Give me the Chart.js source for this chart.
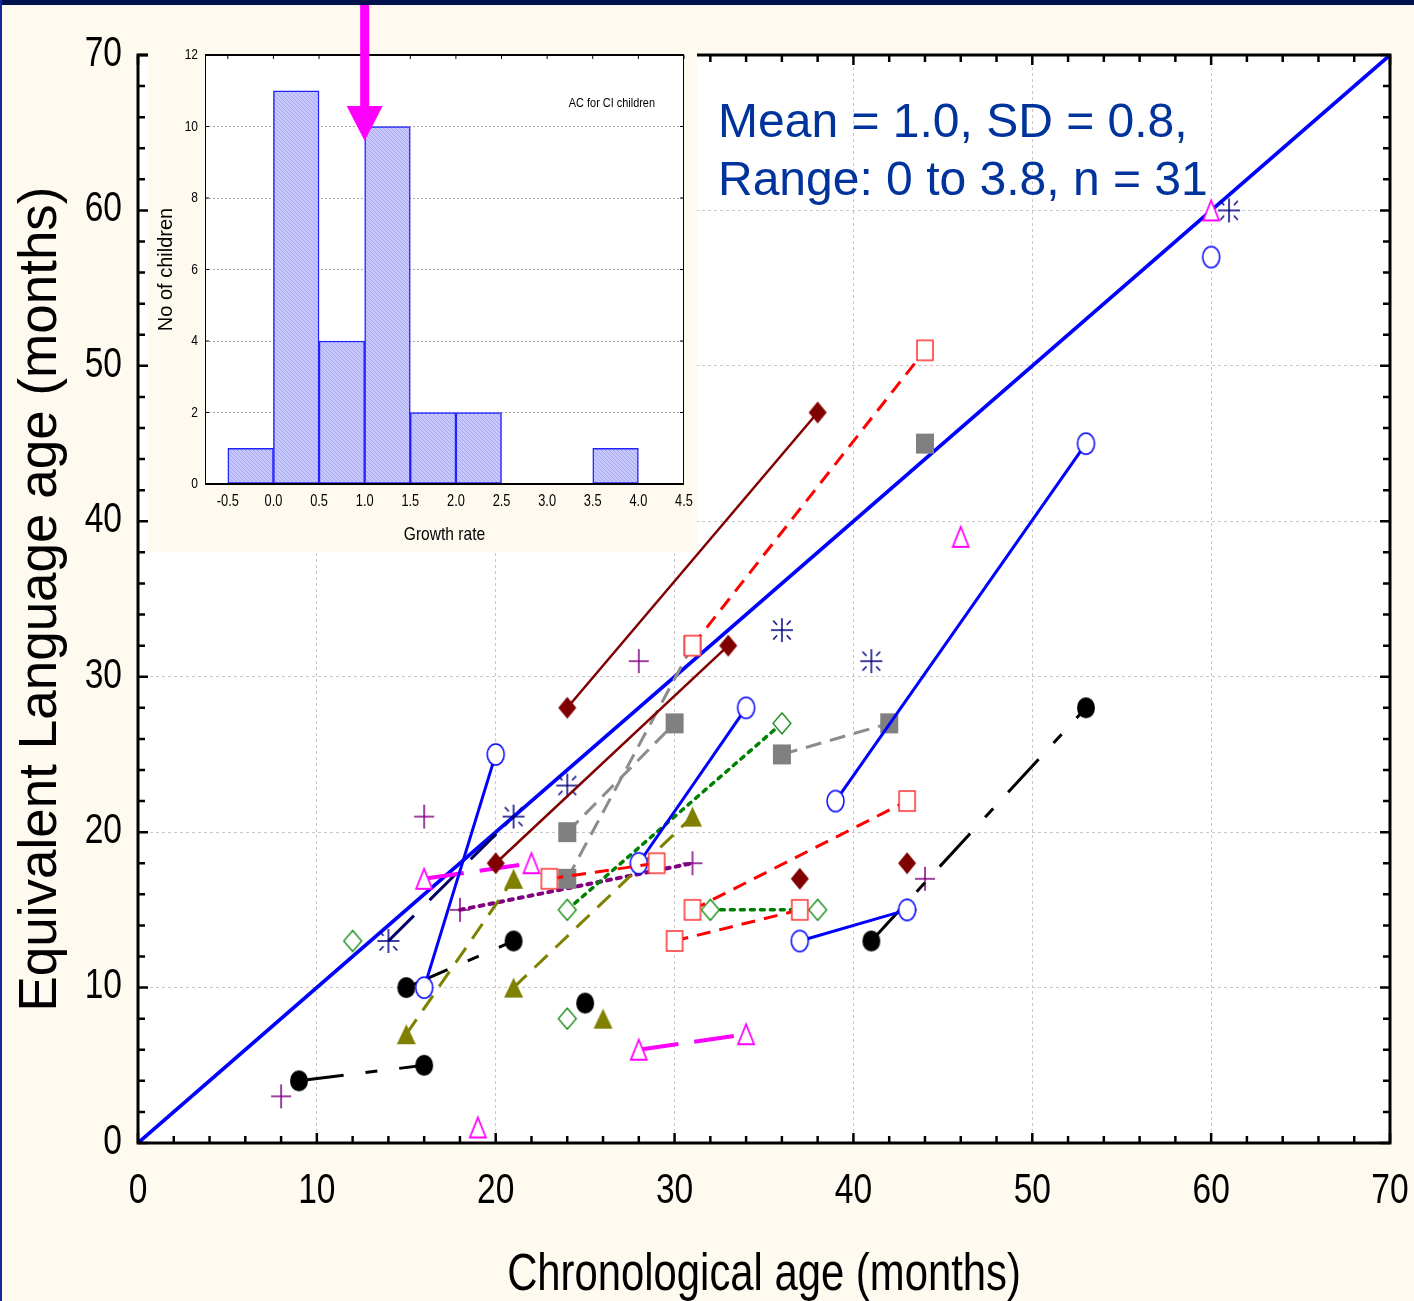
<!doctype html>
<html lang="en">
<head>
<meta charset="utf-8">
<title>Equivalent language age by chronological age</title>
<script src="https://cdn.jsdelivr.net/npm/chart.js@4.4.1/dist/chart.umd.min.js"></script>
<style>
  html, body { margin: 0; padding: 0; background: #fffaf0; }
  #wrap { position: relative; width: 1414px; height: 1301px; overflow: hidden; }
  #main { position: absolute; left: 0; top: 0; }
  #inset { position: absolute; left: 148px; top: 5px; }
  #topbar { position: absolute; left: 0; top: 0; width: 1414px; height: 5px; background: #00124e; }
  #leftbar { position: absolute; left: 0; top: 0; width: 2px; height: 1301px; background: #14269a; }
</style>
</head>
<body>
<div id="wrap">
  <canvas id="main" width="1414" height="1301"></canvas>
  <canvas id="inset" width="549" height="547"></canvas>
  <div id="topbar"></div>
  <div id="leftbar"></div>
</div>
<script>
const SANS = "'Liberation Sans', Arial, sans-serif";
const CREAM = '#fffaf0';

// ---- main plot: [chronological age, language age] per child ----
const ageTicks = [0, 10, 20, 30, 40, 50, 60, 70];
const identityLine = [[0, 0], [70, 70]];

const redSquare = [[[31, 32], [44, 51]], [[23, 17], [29, 18]], [[31, 15], [43, 22]], [[30, 13], [37, 15]]];
const blueCircle = [[[16, 10], [20, 25]], [[28, 18], [34, 28]], [[39, 22], [53, 45]], [[37, 13], [43, 15]], [[60, 57]]];
const maroonDiamond = [[[24, 28], [38, 47]], [[20, 18], [33, 32]], [[37, 17]], [[43, 18]]];
const graySquare = [[[24, 20], [30, 27]], [[24, 17], [31, 32]], [[36, 25], [42, 27]], [[44, 45]]];
const greenDiamond = [[[12, 13]], [[24, 15], [36, 27]], [[32, 15], [38, 15]], [[43, 15]], [[24, 8]]];
const oliveTriangle = [[[15, 7], [21, 17]], [[21, 10], [31, 21]], [[26, 8]]];
const blackDot = [[[9, 4], [16, 5]], [[15, 10], [21, 13]], [[25, 9]], [[41, 13], [53, 28]]];
const magentaTriangle = [[[16, 17], [22, 18]], [[28, 6], [34, 7]], [[19, 1]], [[46, 39]], [[60, 60]]];
const navyStar = [[[14, 13], [21, 21]], [[24, 23]], [[36, 33]], [[41, 31]], [[61, 60]]];
const purpleCross = [[[16, 21]], [[28, 31]], [[18, 15], [31, 18]], [[8, 3]], [[44, 17]]];

// ---- inset histogram ----
const binCenters = [-0.25, 0.25, 0.75, 1.25, 1.75, 2.25, 2.75, 3.25, 3.75, 4.25];
const childCounts = [1, 11, 4, 10, 2, 2, 0, 0, 1, 0];
const growthTicks = [-0.5, 0, 0.5, 1, 1.5, 2, 2.5, 3, 3.5, 4, 4.5];
const countTicks = [0, 2, 4, 6, 8, 10, 12];
const meanGrowth = 1.0;

const statsLines = ['Mean = 1.0, SD = 0.8,', 'Range: 0 to 3.8, n = 31'];

// marker glyphs (the originals are slightly taller than wide)
function marker(shape, w, h, stroke, fill, lw) {
  const c = document.createElement('canvas');
  const pad = Math.ceil(lw) + 1;
  c.width = w + 2 * pad;
  c.height = h + 2 * pad;
  const g = c.getContext('2d');
  g.translate(c.width / 2, c.height / 2);
  g.beginPath();
  if (shape === 'ellipse') {
    g.ellipse(0, 0, w / 2, h / 2, 0, 0, Math.PI * 2);
  } else if (shape === 'rect') {
    g.rect(-w / 2, -h / 2, w, h);
  } else if (shape === 'diamond') {
    g.moveTo(0, -h / 2); g.lineTo(w / 2, 0); g.lineTo(0, h / 2); g.lineTo(-w / 2, 0); g.closePath();
  } else if (shape === 'triangle') {
    g.moveTo(0, -h / 2); g.lineTo(w / 2, h / 2); g.lineTo(-w / 2, h / 2); g.closePath();
  } else if (shape === 'cross' || shape === 'asterisk') {
    g.moveTo(-w / 2, 0); g.lineTo(w / 2, 0);
    g.moveTo(0, -h / 2); g.lineTo(0, h / 2);
    if (shape === 'asterisk') {
      [[1, 1], [1, -1], [-1, 1], [-1, -1]].forEach(([sx, sy]) => {
        g.moveTo(sx * w * 0.22, sy * h * 0.22);
        g.lineTo(sx * w * 0.4, sy * h * 0.4);
      });
    }
  }
  if (fill) { g.fillStyle = fill; g.fill(); }
  if (stroke) { g.lineWidth = lw; g.strokeStyle = stroke; g.stroke(); }
  return c;
}

const groups = [
  { kids: redSquare, style: { pointStyle: marker('rect', 16, 20, '#ff3030', '#fff', 1.5), borderColor: '#ff0000', borderWidth: 3, borderDash: [14, 9] } },
  { kids: blueCircle, style: { pointStyle: marker('ellipse', 17, 21, '#0000ff', '#fff', 1.5), borderColor: '#0000ff', borderWidth: 3 } },
  { kids: maroonDiamond, style: { pointStyle: marker('diamond', 18, 22, null, '#800000', 1), borderColor: '#800000', borderWidth: 2.5 } },
  { kids: graySquare, style: { pointStyle: marker('rect', 18, 20, null, '#808080', 1), borderColor: '#8c8c8c', borderWidth: 3, borderDash: [16, 9] } },
  { kids: greenDiamond, style: { pointStyle: marker('diamond', 18, 21, '#008000', '#fff', 1.2), borderColor: '#008000', borderWidth: 3.5, borderDash: [4, 6], borderCapStyle: 'round' } },
  { kids: oliveTriangle, style: { pointStyle: marker('triangle', 19, 20, null, '#808000', 1), borderColor: '#808000', borderWidth: 3, borderDash: [18, 11] } },
  { kids: blackDot, style: { pointStyle: marker('ellipse', 18, 21, null, '#000', 1), borderColor: '#000', borderWidth: 3, borderDash: [45, 22, 12, 22] } },
  { kids: magentaTriangle, style: { pointStyle: marker('triangle', 16, 20, '#ff00ff', '#fff', 1.8), borderColor: '#ff00ff', borderWidth: 4, borderDash: [40, 16] } },
  { kids: navyStar, style: { pointStyle: marker('asterisk', 22, 24, '#000080', null, 1.5), borderColor: '#000060', borderWidth: 3, borderDash: [36, 22] } },
  { kids: purpleCross, style: { pointStyle: marker('cross', 20, 24, '#800080', null, 1.5), borderColor: '#800080', borderWidth: 4, borderDash: [4, 6], borderCapStyle: 'round' } }
];

const toPts = arr => arr.map(p => ({ x: p[0], y: p[1] }));

const datasets = [];
groups.forEach(g => {
  g.kids.forEach(kid => {
    datasets.push(Object.assign({ data: toPts(kid), showLine: kid.length > 1, fill: false, tension: 0, pointRadius: 10 }, g.style));
  });
});
// line of equality goes underneath everything
datasets.push({ data: toPts(identityLine), showLine: true, pointRadius: 0, borderColor: '#0000ff', borderWidth: 3.6, fill: false });

// horizontally condensed text, like the narrow face of the original
function narrowText(ctx, text, x, y, size, squeeze, align, baseline) {
  ctx.save();
  ctx.font = size + 'px ' + SANS;
  ctx.textAlign = align;
  ctx.textBaseline = baseline;
  ctx.translate(x, y);
  ctx.scale(squeeze, 1);
  ctx.fillText(text, 0, 0);
  ctx.restore();
}

const fixFit = (prop, size) => s => {
  s[prop] = size;
  s.paddingLeft = s.paddingRight = s.paddingTop = s.paddingBottom = 0;
};

const mainDecor = {
  id: 'mainDecor',
  beforeDraw(chart) {
    const { ctx, chartArea: a } = chart;
    ctx.save();
    ctx.fillStyle = '#fff';
    ctx.fillRect(a.left, a.top, a.width, a.height);
    ctx.restore();
  },
  afterDraw(chart) {
    const { ctx, chartArea: a, scales: { x, y } } = chart;
    ctx.save();
    ctx.strokeStyle = '#000';
    ctx.lineWidth = 3;
    ctx.strokeRect(a.left, a.top, a.width, a.height);
    // inward tick marks, every 2 months
    ctx.lineWidth = 2.5;
    ctx.beginPath();
    for (let v = 0; v <= 70; v += 2) {
      const len = v % 10 === 0 ? 10 : 7;
      const px = x.getPixelForValue(v);
      ctx.moveTo(px, a.bottom); ctx.lineTo(px, a.bottom - len);
      ctx.moveTo(px, a.top); ctx.lineTo(px, a.top + len);
      const py = y.getPixelForValue(v);
      ctx.moveTo(a.left, py); ctx.lineTo(a.left + len, py);
      ctx.moveTo(a.right, py); ctx.lineTo(a.right - len, py);
    }
    ctx.stroke();
    ctx.fillStyle = '#000';
    x.ticks.forEach(t => narrowText(ctx, String(t.value), x.getPixelForValue(t.value), a.bottom + 48, 43, 0.78, 'center', 'middle'));
    y.ticks.forEach(t => narrowText(ctx, String(t.value), a.left - 16, y.getPixelForValue(t.value) - 1, 43, 0.78, 'right', 'middle'));
    narrowText(ctx, 'Chronological age (months)', (a.left + a.right) / 2, a.bottom + 147, 51, 0.82, 'center', 'alphabetic');
    // summary text
    ctx.fillStyle = '#00339c';
    ctx.font = '48px ' + SANS;
    ctx.textAlign = 'left';
    ctx.textBaseline = 'alphabetic';
    ctx.fillText(statsLines[0], a.left + 580, a.top + 82);
    ctx.fillText(statsLines[1], a.left + 580, a.top + 140);
    ctx.restore();
  }
};

new Chart(document.getElementById('main'), {
  type: 'scatter',
  data: { datasets },
  options: {
    responsive: false,
    animation: false,
    devicePixelRatio: 1,
    layout: { padding: { left: 0, top: 55, right: 24, bottom: 0 } },
    plugins: { legend: { display: false }, tooltip: { enabled: false } },
    scales: {
      x: {
        type: 'linear', min: 0, max: 70,
        afterBuildTicks: s => { s.ticks = ageTicks.map(v => ({ value: v })); },
        afterFit: fixFit('height', 158),
        grid: { color: '#c8c8c8', lineWidth: 1, drawTicks: false },
        border: { display: false, dash: [3, 3] },
        ticks: { display: false }
      },
      y: {
        type: 'linear', min: 0, max: 70,
        afterBuildTicks: s => { s.ticks = ageTicks.map(v => ({ value: v })); },
        afterFit: fixFit('width', 138),
        grid: { color: '#c8c8c8', lineWidth: 1, drawTicks: false },
        border: { display: false, dash: [3, 3] },
        ticks: { display: false },
        title: { display: true, text: 'Equivalent Language age (months)', color: '#000', font: { family: SANS, size: 53 }, padding: { top: 10, bottom: 0 } }
      }
    }
  },
  plugins: [mainDecor]
});

// ---- inset ----
function hatchPattern() {
  const c = document.createElement('canvas');
  c.width = 4; c.height = 4;
  const g = c.getContext('2d');
  g.fillStyle = '#c8c8fa';
  g.fillRect(0, 0, 4, 4);
  g.strokeStyle = '#a6a6f2';
  g.lineWidth = 1;
  g.beginPath(); g.moveTo(0, 0); g.lineTo(4, 4); g.stroke();
  return g.createPattern(c, 'repeat');
}

const insetDecor = {
  id: 'insetDecor',
  beforeDraw(chart) {
    const { ctx, chartArea: a, width, height } = chart;
    ctx.save();
    ctx.fillStyle = CREAM;
    ctx.fillRect(0, 0, width, height);
    ctx.fillStyle = '#fff';
    ctx.fillRect(a.left, a.top, a.width, a.height);
    ctx.restore();
  },
  afterDraw(chart) {
    const { ctx, chartArea: a, scales: { x, y } } = chart;
    ctx.save();
    ctx.strokeStyle = '#000';
    ctx.lineWidth = 1;
    ctx.beginPath();
    ctx.moveTo(a.left + 0.5, a.top); ctx.lineTo(a.left + 0.5, a.bottom);
    ctx.moveTo(a.right - 0.5, a.top); ctx.lineTo(a.right - 0.5, a.bottom);
    ctx.stroke();
    ctx.lineWidth = 2;
    ctx.beginPath();
    ctx.moveTo(a.left, a.top); ctx.lineTo(a.right, a.top);
    ctx.moveTo(a.left, a.bottom); ctx.lineTo(a.right, a.bottom);
    ctx.stroke();
    ctx.lineWidth = 1;
    ctx.beginPath();
    growthTicks.forEach(v => {
      const px = x.getPixelForValue(v);
      ctx.moveTo(px, a.top); ctx.lineTo(px, a.top + 4);
    });
    countTicks.forEach(v => {
      const py = y.getPixelForValue(v);
      ctx.moveTo(a.left, py); ctx.lineTo(a.left + 4, py);
      ctx.moveTo(a.right, py); ctx.lineTo(a.right - 4, py);
    });
    ctx.stroke();

    ctx.fillStyle = '#000';
    x.ticks.forEach(t => narrowText(ctx, t.value.toFixed(1), x.getPixelForValue(t.value), a.bottom + 18, 16, 0.8, 'center', 'middle'));
    y.ticks.forEach(t => narrowText(ctx, String(t.value), a.left - 7, y.getPixelForValue(t.value), 15, 0.8, 'right', 'middle'));
    narrowText(ctx, 'Growth rate', (a.left + a.right) / 2, a.bottom + 51, 19, 0.82, 'center', 'middle');
    narrowText(ctx, 'AC for CI children', a.right - 29, a.top + 52, 13, 0.84, 'right', 'alphabetic');

    // arrow marking the mean growth rate
    const ax = x.getPixelForValue(meanGrowth);
    ctx.fillStyle = '#ff00ff';
    ctx.fillRect(ax - 4.5, 0, 9, a.top + 53);
    ctx.beginPath();
    ctx.moveTo(ax - 18, a.top + 51);
    ctx.lineTo(ax + 18, a.top + 51);
    ctx.lineTo(ax, a.top + 86);
    ctx.closePath();
    ctx.fill();
    ctx.restore();
  }
};

new Chart(document.getElementById('inset'), {
  type: 'bar',
  data: {
    datasets: [{
      data: binCenters.map((c, i) => ({ x: c, y: childCounts[i] })),
      backgroundColor: hatchPattern(),
      borderColor: '#2222ff',
      borderWidth: 1.5,
      borderSkipped: false,
      barPercentage: 1,
      categoryPercentage: 1
    }]
  },
  options: {
    responsive: false,
    animation: false,
    devicePixelRatio: 1,
    layout: { padding: { left: 0, top: 50, right: 13, bottom: 0 } },
    plugins: { legend: { display: false }, tooltip: { enabled: false } },
    scales: {
      x: {
        type: 'linear', min: -0.75, max: 4.5, offset: false,
        afterBuildTicks: s => { s.ticks = growthTicks.map(v => ({ value: v })); },
        afterFit: fixFit('height', 68),
        grid: { display: false, offset: false },
        border: { display: false },
        ticks: { display: false }
      },
      y: {
        type: 'linear', min: 0, max: 12,
        afterBuildTicks: s => { s.ticks = countTicks.map(v => ({ value: v })); },
        afterFit: fixFit('width', 57),
        grid: { drawTicks: false, lineWidth: 1, color: c => (c.tick && c.tick.value > 0 && c.tick.value < 12) ? '#a8a8a8' : 'rgba(0,0,0,0)' },
        border: { display: false, dash: [2, 2] },
        ticks: { display: false },
        title: { display: true, text: 'No of children', color: '#000', font: { family: SANS, size: 20 }, padding: { top: 6, bottom: 0 } }
      }
    }
  },
  plugins: [insetDecor]
});
</script>
</body>
</html>
